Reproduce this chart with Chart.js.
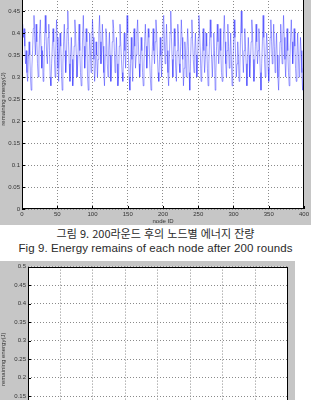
<!DOCTYPE html>
<html lang="ko">
<head>
  <meta charset="UTF-8" />
  <title>Energy remains of each node</title>
  <script src="https://cdn.jsdelivr.net/npm/chart.js"></script>
  <style>
    html, body {
      margin: 0;
      padding: 0;
      width: 311px;
      height: 400px;
      overflow: hidden;
      background: #fff;
    }
    canvas { position: absolute; left: 0; }
    #fig1 { top: -20px; background: #c6c6c6; }
    #fig2 { top: 261px; background: #c6c6c6; }
    .cap {
      position: absolute;
      left: 0;
      width: 311px;
      text-align: center;
      color: #2a2a2a;
      white-space: nowrap;
    }
    #capKo { top: 225px; font: 11px 'Noto Sans CJK KR', sans-serif; }
    #capEn { top: 242px; font: 11.5px 'Liberation Sans', sans-serif; letter-spacing: 0.1px; }
  </style>
</head>
<body>
  <canvas id="fig1" width="311" height="245"></canvas>
  <div class="cap" id="capKo">그림 9. 200라운드 후의 노드별 에너지 잔량</div>
  <div class="cap" id="capEn">Fig 9. Energy remains of each node after 200 rounds</div>
  <canvas id="fig2" width="295" height="225"></canvas>

  <script>
    // remaining energy (J) per node after 200 rounds, nodes 1..400
    const energy = [
      0.42,0.39,0.41,0.37,0.33,0.36,0.31,0.29,0.34,0.38,0.35,0.30,0.27,0.32,0.36,0.41,0.44,0.39,0.35,0.42,
      0.38,0.33,0.30,0.35,0.40,0.43,0.37,0.32,0.36,0.29,0.31,0.38,0.44,0.40,0.35,0.33,0.39,0.42,0.36,0.30,
      0.28,0.33,0.37,0.41,0.38,0.34,0.30,0.36,0.43,0.39,0.32,0.29,0.35,0.40,0.37,0.31,0.27,0.33,0.38,0.42,
      0.36,0.31,0.34,0.41,0.45,0.38,0.33,0.29,0.35,0.39,0.34,0.28,0.31,0.37,0.43,0.40,0.35,0.30,0.33,0.38,
      0.42,0.36,0.31,0.28,0.34,0.39,0.44,0.37,0.32,0.35,0.41,0.38,0.30,0.27,0.33,0.40,0.36,0.31,0.37,0.43,
      0.39,0.34,0.29,0.32,0.38,0.35,0.30,0.34,0.40,0.44,0.38,0.33,0.36,0.42,0.37,0.31,0.28,0.35,0.41,0.39,
      0.33,0.30,0.36,0.40,0.35,0.29,0.32,0.38,0.43,0.41,0.36,0.31,0.34,0.39,0.33,0.28,0.30,0.37,0.42,0.38,
      0.34,0.31,0.29,0.35,0.40,0.36,0.32,0.38,0.44,0.40,0.35,0.30,0.27,0.33,0.39,0.34,0.29,0.36,0.41,0.37,
      0.32,0.35,0.40,0.43,0.38,0.33,0.30,0.34,0.39,0.36,0.31,0.28,0.33,0.38,0.42,0.37,0.32,0.35,0.41,0.39,
      0.34,0.30,0.27,0.32,0.37,0.41,0.36,0.33,0.38,0.43,0.40,0.35,0.31,0.29,0.34,0.39,0.35,0.30,0.36,0.42,
      0.44,0.38,0.33,0.37,0.42,0.36,0.31,0.28,0.34,0.40,0.45,0.39,0.34,0.30,0.35,0.41,0.37,0.32,0.29,0.36,
      0.42,0.38,0.33,0.31,0.37,0.43,0.39,0.34,0.28,0.32,0.38,0.35,0.30,0.36,0.41,0.37,0.31,0.27,0.33,0.39,
      0.43,0.38,0.34,0.31,0.36,0.40,0.35,0.30,0.33,0.39,0.44,0.40,0.35,0.29,0.32,0.37,0.41,0.36,0.31,0.34,
      0.40,0.37,0.32,0.28,0.33,0.38,0.43,0.39,0.34,0.30,0.35,0.40,0.36,0.27,0.31,0.37,0.42,0.38,0.33,0.36,
      0.41,0.36,0.31,0.29,0.34,0.40,0.44,0.38,0.33,0.30,0.36,0.42,0.37,0.32,0.35,0.40,0.34,0.28,0.31,0.37,
      0.43,0.39,0.35,0.30,0.33,0.38,0.34,0.29,0.32,0.39,0.45,0.40,0.35,0.31,0.36,0.41,0.37,0.33,0.28,0.34,
      0.39,0.35,0.30,0.33,0.38,0.43,0.40,0.34,0.29,0.32,0.37,0.42,0.38,0.33,0.36,0.41,0.36,0.31,0.27,0.33,
      0.38,0.44,0.39,0.34,0.30,0.35,0.40,0.37,0.32,0.29,0.34,0.39,0.43,0.38,0.33,0.36,0.42,0.37,0.31,0.35,
      0.40,0.35,0.30,0.27,0.32,0.38,0.42,0.37,0.33,0.39,0.44,0.39,0.34,0.30,0.35,0.41,0.36,0.31,0.28,0.34,
      0.39,0.43,0.38,0.33,0.36,0.41,0.37,0.32,0.29,0.35,0.40,0.35,0.30,0.33,0.39,0.36,0.31,0.27,0.32,0.37
    ];
    const xMin = 0, xMax = 400, xStep = 50;
    const yMin = 0, yMax = 0.5, yStep = 0.05;
    const xTitle = 'node ID';
    const yTitle = 'remaining energy(J)';

    const tickFont = { family: 'Liberation Sans', size: 6 };
    const fmt = v => String(Number(v.toFixed(2)));

    // white plot box + black frame, matlab style
    const axesBox = {
      id: 'axesBox',
      beforeDraw(chart) {
        const a = chart.chartArea, c = chart.ctx;
        c.save();
        c.fillStyle = '#fff';
        c.fillRect(a.left, a.top, a.right - a.left, a.bottom - a.top);
        c.restore();
      },
      afterDraw(chart) {
        const a = chart.chartArea, c = chart.ctx;
        c.save();
        c.strokeStyle = '#000';
        c.lineWidth = 1;
        c.strokeRect(Math.round(a.left) + 0.5, Math.round(a.top) + 0.5,
          Math.round(a.right - a.left) - 1, Math.round(a.bottom - a.top) - 1);
        // little inward ticks
        c.beginPath();
        chart.scales.x.ticks.forEach((t, i) => {
          const px = Math.round(chart.scales.x.getPixelForTick(i)) + 0.5;
          c.moveTo(px, a.bottom); c.lineTo(px, a.bottom - 3);
        });
        chart.scales.y.ticks.forEach((t, i) => {
          const py = Math.round(chart.scales.y.getPixelForTick(i)) + 0.5;
          c.moveTo(a.left, py); c.lineTo(a.left + 3, py);
        });
        c.stroke();
        c.restore();
      }
    };

    function makeScales(yWidth, xHeight) {
      const grid = { color: '#8a8a8a', lineWidth: 1, drawTicks: false, tickLength: 0 };
      const border = { display: false, dash: [1, 2] };
      return {
        x: {
          type: 'linear', min: xMin, max: xMax,
          grid: { ...grid }, border: { ...border },
          ticks: { stepSize: xStep, font: tickFont, color: '#333', padding: 2, maxRotation: 0, callback: fmt },
          title: { display: true, text: xTitle, font: tickFont, color: '#333', padding: 0 },
          afterFit: s => { s.height = xHeight; }
        },
        y: {
          min: yMin, max: yMax,
          grid: { ...grid }, border: { ...border },
          ticks: { stepSize: yStep, font: tickFont, color: '#333', padding: 2, callback: fmt },
          title: { display: true, text: yTitle, font: tickFont, color: '#333', padding: 0 },
          afterFit: s => { s.width = yWidth; }
        }
      };
    }

    new Chart(document.getElementById('fig1'), {
      type: 'line',
      data: {
        datasets: [{
          data: energy.map((v, i) => ({ x: i + 1, y: v })),
          borderColor: 'rgba(50,50,255,0.6)',
          borderWidth: 0.8,
          pointRadius: 0,
          tension: 0
        }]
      },
      options: {
        responsive: false,
        animation: false,
        layout: { padding: { top: 9, right: 4, left: 0, bottom: 0 } },
        plugins: { legend: { display: false }, tooltip: { enabled: false } },
        scales: makeScales(22, 16)
      },
      plugins: [axesBox]
    });

    // second figure, only its upper part is visible
    new Chart(document.getElementById('fig2'), {
      type: 'line',
      data: { datasets: [{ data: [], borderColor: 'rgba(50,50,255,0.6)', borderWidth: 0.8, pointRadius: 0 }] },
      options: {
        responsive: false,
        animation: false,
        layout: { padding: { top: 4, right: 7, left: 0, bottom: 14 } },
        plugins: { legend: { display: false }, tooltip: { enabled: false } },
        scales: makeScales(28, 20)
      },
      plugins: [axesBox]
    });
  </script>
</body>
</html>
